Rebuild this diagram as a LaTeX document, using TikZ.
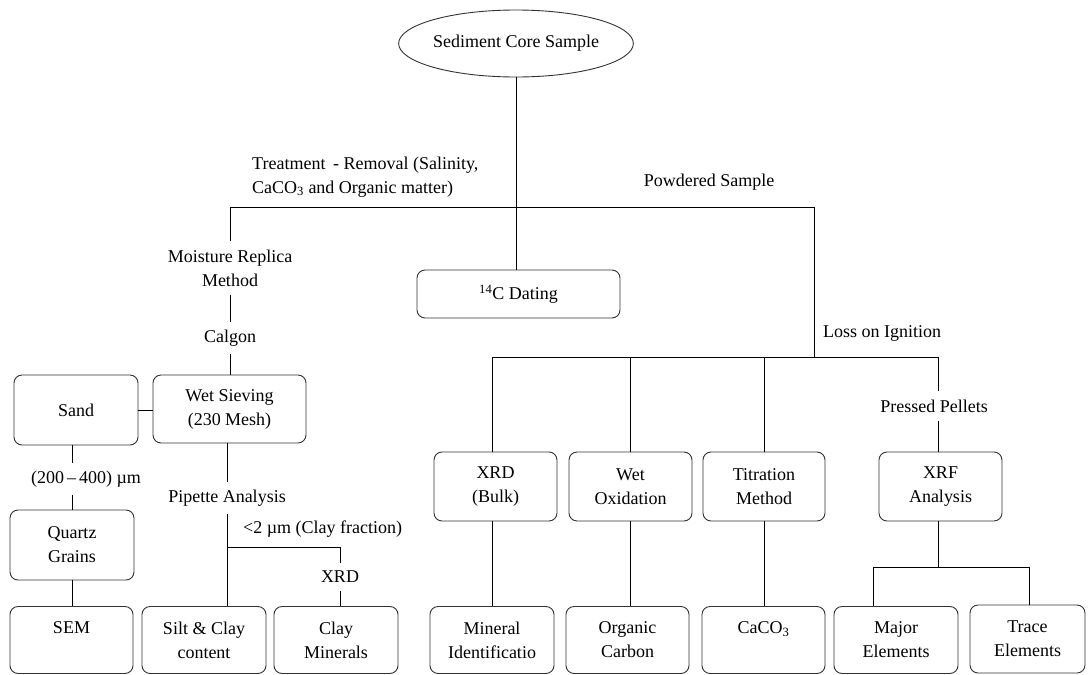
\documentclass[tikz,border=0pt]{standalone}
\usepackage{fontspec}
\setmainfont{Liberation Serif}
\usetikzlibrary{shapes.geometric}
\begin{document}
\begin{tikzpicture}[x=1pt,y=-1pt,
  font=\fontsize{18}{24}\selectfont,
  box/.style={draw=black!80, line width=0.9pt, rounded corners=8pt, align=center, inner sep=0pt},
  lbl/.style={align=center, inner sep=8pt},
  conn/.style={draw=black, line width=0.9pt}]
\useasboundingbox (0,0) rectangle (1088,675);

% top ellipse
\node[ellipse, draw=black!80, line width=0.9pt, minimum width=218, minimum height=67, inner sep=0pt] (core) at (516,43.5) {Sediment Core Sample};

% boxes
\node[box, minimum width=203, minimum height=48] (c14) at (518.5,294) {\textsuperscript{14}C Dating};
\node[box, minimum width=124, minimum height=70] (sand) at (76,410) {Sand};
\node[box, minimum width=153, minimum height=68] (wet) at (229.5,409) {Wet Sieving\\(230 Mesh)};
\node[box, minimum width=124, minimum height=70] (quartz) at (72,545) {Quartz\\Grains};
\node[box, minimum width=123, minimum height=67] (sem) at (71.5,640) {SEM\\\mbox{}};
\node[box, minimum width=124, minimum height=67] (silt) at (204,640) {Silt \& Clay\\content};
\node[box, minimum width=124, minimum height=67] (clay) at (336,640) {Clay\\Minerals};
\node[box, minimum width=123, minimum height=69] (xrdb) at (495.5,486.5) {XRD\\(Bulk)};
\node[box, minimum width=123, minimum height=69] (wetox) at (630.5,486.5) {Wet\\Oxidation};
\node[box, minimum width=122, minimum height=69] (titr) at (764,486.5) {Titration\\Method};
\node[box, minimum width=123, minimum height=69] (xrf) at (940.5,486.5) {XRF\\Analysis};
\node[box, minimum width=124, minimum height=67] (mineral) at (492,640) {Mineral\\Identificatio};
\node[box, minimum width=123, minimum height=67] (organic) at (627.5,640) {Organic\\Carbon};
\node[box, minimum width=123, minimum height=67] (caco3) at (763.5,640) {CaCO\textsubscript{3}\\\mbox{}};
\node[box, minimum width=124, minimum height=67] (major) at (896,640) {Major\\Elements};
\node[box, minimum width=115, minimum height=68] (trace) at (1027.5,639) {Trace\\Elements};

% labels
\node[align=left, inner sep=0pt, anchor=west] (treat) at (252,177) {Treatment \,- Removal (Salinity,\\CaCO\textsubscript{3} and Organic matter)};
\node[lbl] (powder) at (709,182) {Powdered Sample};
\node[lbl] (moist) at (230,268) {Moisture Replica\\Method};
\node[lbl] (calgon) at (230,338) {Calgon};
\node[inner sep=0pt, anchor=west] (loss) at (823,333) {Loss on Ignition};
\node[lbl] (size) at (86,479) {(200\,–\,400) µm};
\node[lbl] (pip) at (227,498) {Pipette Analysis};
\node[inner sep=0pt, anchor=west] (cf) at (243,529) {<2 µm (Clay fraction)};
\node[lbl] (xrdl) at (340,577) {XRD};
\node[lbl] (press) at (934,406) {Pressed Pellets};

% junction coordinates
\coordinate (jL) at (230,207);
\coordinate (jR) at (814,207);
\coordinate (kR) at (814,357);
\coordinate (kL) at (492,357);
\coordinate (kE) at (938,357);
\coordinate (pj) at (227,547);
\coordinate (pe) at (340,547);
\coordinate (xj) at (938,567);
\coordinate (xL) at (873,567);
\coordinate (xE) at (1029,567);

% connectors
\draw[conn] (core.south) -- (core.south |- c14.north);
\draw[conn] (jL) -- (jR);
\draw[conn] (jL) -- (moist.north);
\draw[conn] (moist.south) -- (calgon.north);
\draw[conn] (calgon.south) -- (calgon.south |- wet.north);
\draw[conn] (sand.east) -- (sand.east -| wet.west);
\draw[conn] (quartz.north |- sand.south) -- (quartz.north |- size.north);
\draw[conn] (quartz.north |- size.south) -- (quartz.north);
\draw[conn] (quartz.south) -- (quartz.south |- sem.north);
\draw[conn] (pip.north |- wet.south) -- (pip.north);
\draw[conn] (pip.south) -- (pip.south |- silt.north);
\draw[conn] (pj) -- (pe) -- (xrdl.north);
\draw[conn] (xrdl.south) -- (xrdl.south |- clay.north);
\draw[conn] (jR) -- (kR);
\draw[conn] (kL) -- (kE);
\draw[conn] (kL) -- (kL |- xrdb.north);
\draw[conn] (wetox.north |- kL) -- (wetox.north);
\draw[conn] (titr.north |- kL) -- (titr.north);
\draw[conn] (kE) -- (kE |- press.north);
\draw[conn] (kE |- press.south) -- (kE |- xrf.north);
\draw[conn] (kL |- xrdb.south) -- (kL |- mineral.north);
\draw[conn] (wetox.south) -- (wetox.south |- organic.north);
\draw[conn] (titr.south) -- (titr.south |- caco3.north);
\draw[conn] (kE |- xrf.south) -- (xj);
\draw[conn] (xL |- major.north) -- (xL) -- (xE) -- (xE |- trace.north);
\end{tikzpicture}
\end{document}
